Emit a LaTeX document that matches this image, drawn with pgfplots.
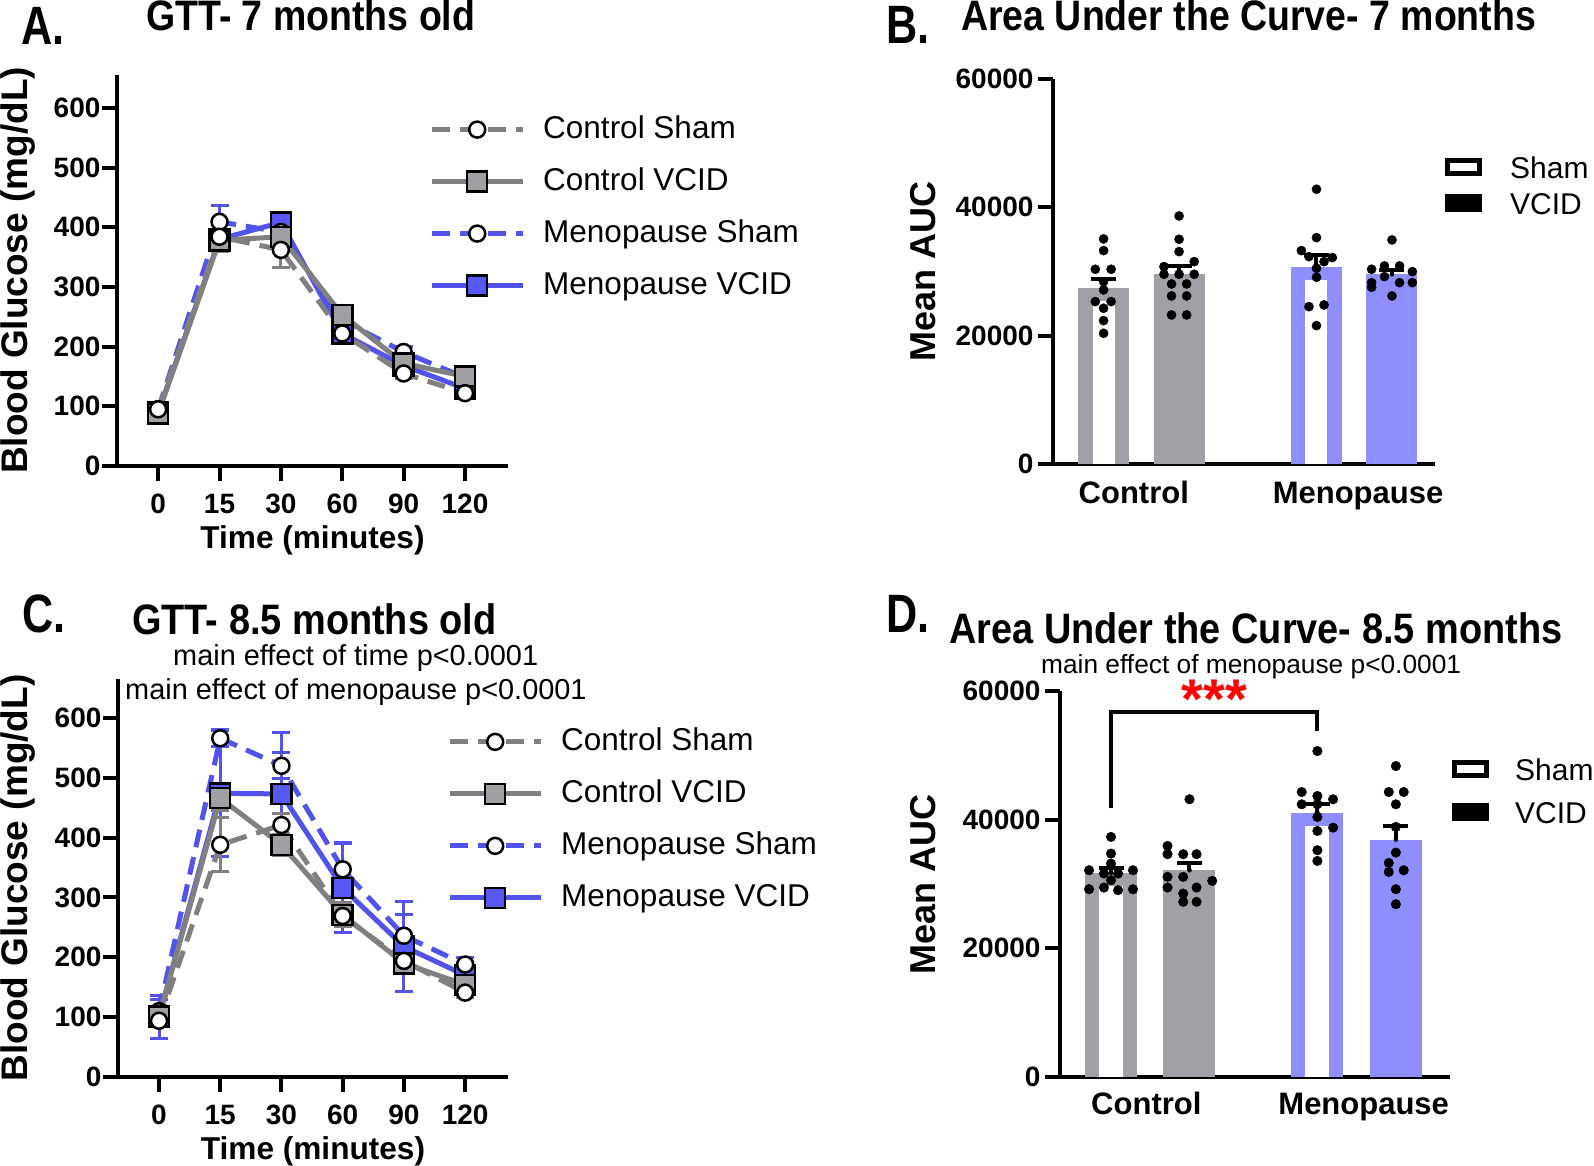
\documentclass[border=0pt]{standalone}
\usepackage{fontspec}
\setmainfont{Liberation Sans}
\usepackage{graphicx}
\usepackage{pgfplots}
\usepackage{pgfplotstable}
\pgfplotsset{compat=1.18}

\definecolor{lgray}{RGB}{128,128,128}
\definecolor{sgray}{RGB}{160,160,164}
\definecolor{lblue}{RGB}{82,82,236}
\definecolor{sblue}{RGB}{88,88,245}
\definecolor{bgray}{RGB}{161,160,166}
\definecolor{bblue}{RGB}{142,142,252}

\newcommand\tickfont{\fontsize{28}{30}\selectfont\bfseries}
\newcommand\titlefont{\fontsize{42.6}{44}\selectfont\bfseries}
\newcommand\letterfont{\fontsize{54}{56}\selectfont\bfseries}

\tikzset{
  cs/.style={lgray, line width=5pt, dash pattern=on 18pt off 10pt, mark=*, mark size=8pt,
    mark options={solid, fill=white, draw=black, line width=2.5pt}},
  cv/.style={lgray, line width=5pt, solid, mark=square*, mark size=10pt,
    mark options={solid, fill=sgray, draw=black, line width=2.5pt}},
  ms/.style={lblue, line width=5pt, dash pattern=on 18pt off 10pt, mark=*, mark size=8pt,
    mark options={solid, fill=white, draw=black, line width=2.5pt}},
  mv/.style={lblue, line width=5pt, solid, mark=square*, mark size=10pt,
    mark options={solid, fill=sblue, draw=black, line width=2.5pt}},
}

\pgfplotsset{
  errs/.style={error bars/.cd, y dir=both, y explicit,
    error bar style={solid, line width=3pt, #1},
    error mark options={rotate=90, solid, line width=3pt, #1, mark size=9pt}},
  panel/.style={scale only axis, axis lines*=left, clip=false,
    axis line style={line width=4pt, black},
    tick align=outside, major tick length=15pt,
    tick style={line width=4pt, black},
    ticklabel style={font=\tickfont},
    /pgf/number format/assume math mode=true,
    scaled y ticks=false},
  gttpanel/.style={panel,
    xmin=-0.67, xmax=5.7, ymin=0,
    xtick={0,1,2,3,4,5}, xticklabels={0,15,30,60,90,120},
    ytick={0,100,200,300,400,500,600},
    xticklabel style={anchor=base, yshift=-32pt},
    yticklabel style={anchor=east, xshift=2pt},
    xlabel={Time (minutes)}, ylabel={Blood Glucose (mg/dL)},
    xlabel style={font=\fontsize{31.6}{34}\selectfont\bfseries, at={(axis description cs:0.5,0)}, anchor=base, yshift=-82pt},
    legend cell align=left,
    legend image code/.code={\draw[mark repeat=2, mark phase=2, ##1] plot coordinates {(0pt,0pt) (45.5pt,0pt) (91pt,0pt)};}},
  aucpanel/.style={panel,
    ymin=0, ymax=60000,
    ytick={0,20000,40000,60000}, yticklabels={0,20000,40000,60000},
    yticklabel style={anchor=east, xshift=-1pt},
    xtick style={draw=none},
    xticklabels={Control,Menopause},
    xticklabel style={font=\fontsize{31}{33}\selectfont\bfseries, anchor=base},
    ylabel={Mean AUC},
    legend cell align=left,
    legend image code/.code={\draw[##1] (0pt,-6pt) rectangle (32pt,7pt);}},
  sem/.style={only marks, mark=none, error bars/.cd, y dir=plus, y explicit,
    error bar style={black, line width=4pt},
    error mark options={rotate=90, black, line width=4pt, mark size=12.5pt}},
}

\pgfplotstableread{
t CS eCS CV eCV MS eMS MV eMV
0 95 5 88 5 95 5 90 5
1 384 25 378 10 409 28 380 15
2 362 29 384 12 392 15 408 12
3 222 10 253 12 244 12 222 10
4 155 8 172 10 191 10 168 8
5 122 6 150 8 148 8 130 8
}\gttA

\pgfplotstableread{
t CS eCS CV eCV MS eMS MV eMV
0 94 8 101 10 110 20 101 36
1 388 45 466 20 566 14 474 105
2 421 20 388 18 520 22 473 103
3 269 15 271 20 347 45 316 74
4 194 12 190 15 236 35 218 75
5 141 8 154 8 188 12 170 30
}\gttC

\begin{document}
\begin{tikzpicture}
\useasboundingbox (0pt,0pt) rectangle (1594pt,-1166pt);

% panel letters and titles
\node[anchor=base west, inner sep=0pt, font=\letterfont] at (21pt,-45pt) {\scalebox{0.8}[1]{A.}};
\node[anchor=base west, inner sep=0pt, font=\titlefont] at (146pt,-31pt) {\scalebox{0.88}[1]{GTT- 7 months old}};
\node[anchor=base west, inner sep=0pt, font=\letterfont] at (886pt,-44pt) {\scalebox{0.8}[1]{B.}};
\node[anchor=base west, inner sep=0pt, font=\titlefont] at (961pt,-31pt) {\scalebox{0.88}[1]{Area Under the Curve- 7 months}};
\node[anchor=base west, inner sep=0pt, font=\letterfont] at (22pt,-632pt) {\scalebox{0.8}[1]{C.}};
\node[anchor=base west, inner sep=0pt, font=\titlefont] at (132pt,-634pt) {\scalebox{0.89}[1]{GTT- 8.5 months old}};
\node[anchor=base west, inner sep=0pt, font=\fontsize{28.9}{30}\selectfont] at (173pt,-665pt) {main effect of time p<0.0001};
\node[anchor=base west, inner sep=0pt, font=\fontsize{28.9}{30}\selectfont] at (125pt,-699pt) {main effect of menopause p<0.0001};
\node[anchor=base west, inner sep=0pt, font=\letterfont] at (886pt,-632pt) {\scalebox{0.8}[1]{D.}};
\node[anchor=base west, inner sep=0pt, font=\titlefont] at (949pt,-643pt) {\scalebox{0.89}[1]{Area Under the Curve- 8.5 months}};
\node[anchor=base west, inner sep=0pt, font=\fontsize{26.3}{28}\selectfont] at (1041pt,-673pt) {main effect of menopause p<0.0001};

% ---------------- A ----------------
\begin{axis}[gttpanel, at={(117pt,-466pt)}, anchor=south west, width=391pt, height=391pt, ymax=655,
  ylabel style={font=\fontsize{37}{40}\selectfont\bfseries, at={(axis description cs:-0.253,0.5)}, anchor=center},
  legend style={draw=none, fill=none, at={(0.798,0.898)}, anchor=north west, inner sep=0pt,
    row sep=23pt, font=\fontsize{31.5}{34}\selectfont,
    nodes={inner sep=0pt, text height=23pt, text depth=6pt},
    /tikz/every odd column/.append style={column sep=18pt}}]
\addlegendimage{cs}
\addlegendimage{cv}
\addlegendimage{ms}
\addlegendimage{mv}
\legend{Control Sham, Control VCID, Menopause Sham, Menopause VCID}
\addplot[mv, errs=lblue] table[x=t, y=MV, y error=eMV] {\gttA};
\addplot[ms, errs=lblue] table[x=t, y=MS, y error=eMS] {\gttA};
\addplot[cv, errs=lgray] table[x=t, y=CV, y error=eCV] {\gttA};
\addplot[cs, errs=lgray] table[x=t, y=CS, y error=eCS] {\gttA};
\end{axis}

% ---------------- C ----------------
\begin{axis}[gttpanel, at={(118pt,-1077pt)}, anchor=south west, width=390pt, height=398pt, ymax=665,
  ylabel style={font=\fontsize{37}{40}\selectfont\bfseries, at={(axis description cs:-0.256,0.5)}, anchor=center},
  legend style={draw=none, fill=none, at={(0.8436,0.879)}, anchor=north west, inner sep=0pt,
    row sep=23pt, font=\fontsize{31.5}{34}\selectfont,
    nodes={inner sep=0pt, text height=23pt, text depth=6pt},
    /tikz/every odd column/.append style={column sep=18pt}}]
\addlegendimage{cs}
\addlegendimage{cv}
\addlegendimage{ms}
\addlegendimage{mv}
\legend{Control Sham, Control VCID, Menopause Sham, Menopause VCID}
\addplot[mv, errs=lblue] table[x=t, y=MV, y error=eMV] {\gttC};
\addplot[ms, errs=lblue] table[x=t, y=MS, y error=eMS] {\gttC};
\addplot[cv, errs=lgray] table[x=t, y=CV, y error=eCV] {\gttC};
\addplot[cs, errs=lgray] table[x=t, y=CS, y error=eCS] {\gttC};
\end{axis}

% ---------------- B ----------------
\begin{axis}[aucpanel, at={(1053pt,-464pt)}, anchor=south west, width=382pt, height=385pt,
  xmin=-0.67, xmax=4.39, xtick={0.4,3.37},
  xticklabel style={yshift=-24pt},
  ylabel style={font=\fontsize{36}{40}\selectfont\bfseries, at={(axis description cs:-0.34,0.5)}, anchor=center},
  legend style={draw=none, fill=none, at={(1.026,0.798)}, anchor=north west, inner sep=0pt,
    row sep=14pt, font=\fontsize{30}{32}\selectfont,
    nodes={inner sep=0pt, text height=22pt, text depth=0pt},
    /tikz/every odd column/.append style={column sep=28pt}}]
\addlegendimage{draw=black, line width=5pt, fill=white}
\addlegendimage{draw=black, line width=5pt, fill=black}
\legend{Sham, VCID}
% bars
\addplot[ybar, bar width=51pt, fill=bgray, draw=none] coordinates {(0,27480)};
\addplot[ybar, bar width=22pt, fill=white, draw=none, y filter/.expression={y-2100}] coordinates {(0,27480)};
\addplot[ybar, bar width=51pt, fill=bgray, draw=none] coordinates {(1,29570)};
\addplot[ybar, bar width=51pt, fill=bblue, draw=none] coordinates {(2.82,30700)};
\addplot[ybar, bar width=22pt, fill=white, draw=none, y filter/.expression={y-2100}] coordinates {(2.82,30700)};
\addplot[ybar, bar width=51pt, fill=bblue, draw=none] coordinates {(3.82,29570)};
% SEM
\addplot[sem] coordinates {(0,27480) +- (0,1360) (1,29570) +- (0,1300) (2.82,30700) +- (0,1880) (3.82,29570) +- (0,670)};
% individual animals
\addplot[only marks, mark=*, mark size=4.6pt, black] coordinates {
  (0,35080) (0,33260) (-0.11,30350) (0.10,30350) (0,28430) (0,27130)
  (-0.11,25310) (0.10,25310) (0,24270) (0,22350) (0,20370)};
\addplot[only marks, mark=*, mark size=4.6pt, black] coordinates {
  (1,38660) (1,35020) (1,33100) (1.2,31540) (0.8,30760) (0.8,29570) (1,29570)
  (1.2,29570) (0.9,28060) (1.1,28060) (0.9,26190) (1.1,26190) (0.9,23230) (1.1,23230)};
\addplot[only marks, mark=*, mark size=4.6pt, black] coordinates {
  (2.82,42820) (2.82,35280) (2.62,33260) (2.72,32320) (3.03,32170) (2.92,31540)
  (2.82,30500) (2.82,29100) (2.72,24530) (2.92,24790) (2.82,21570)};
\addplot[only marks, mark=*, mark size=4.6pt, black] coordinates {
  (3.82,34920) (3.72,30870) (3.92,30870) (3.55,30350) (4.09,29980) (3.72,29200)
  (3.55,28270) (3.92,28270) (4.09,28270) (3.55,27550) (3.82,26190)};
\end{axis}

% ---------------- D ----------------
\begin{axis}[aucpanel, at={(1060pt,-1077pt)}, anchor=south west, width=390pt, height=386pt,
  xmin=-0.65, xmax=4.32, xtick={0.45,3.22},
  xticklabel style={yshift=-22pt},
  ylabel style={font=\fontsize{36}{40}\selectfont\bfseries, at={(axis description cs:-0.351,0.5)}, anchor=center},
  legend style={draw=none, fill=none, at={(1.005,0.8246)}, anchor=north west, inner sep=0pt,
    row sep=21pt, font=\fontsize{30}{32}\selectfont,
    nodes={inner sep=0pt, text height=22pt, text depth=0pt},
    /tikz/every odd column/.append style={column sep=26pt}}]
\addlegendimage{draw=black, line width=5pt, fill=white}
\addlegendimage{draw=black, line width=5pt, fill=black}
\legend{Sham, VCID}
\addplot[ybar, bar width=52pt, fill=bgray, draw=none] coordinates {(0,31720)};
\addplot[ybar, bar width=24pt, fill=white, draw=none, y filter/.expression={y-2100}] coordinates {(0,31720)};
\addplot[ybar, bar width=52pt, fill=bgray, draw=none] coordinates {(1,32140)};
\addplot[ybar, bar width=52pt, fill=bblue, draw=none] coordinates {(2.63,41100)};
\addplot[ybar, bar width=24pt, fill=white, draw=none, y filter/.expression={y-2100}] coordinates {(2.63,41100)};
\addplot[ybar, bar width=52pt, fill=bblue, draw=none] coordinates {(3.63,36910)};
\addplot[sem] coordinates {(0,31720) +- (0,840) (1,32140) +- (0,1200) (2.63,41100) +- (0,1400) (3.63,36910) +- (0,2170)};
\addplot[only marks, mark=*, mark size=4.8pt, black] coordinates {
  (0,37320) (0,34730) (0,33180) (-0.28,32140) (0.28,32140) (-0.09,31630)
  (0.09,31630) (0,30590) (-0.09,29450) (-0.28,29190) (0.28,29190) (0.09,29040)};
\addplot[only marks, mark=*, mark size=4.8pt, black] coordinates {
  (1,43170) (0.72,35920) (0.72,34630) (0.92,34630) (1.09,34630) (0.72,31110) (0.92,31110)
  (1.29,30490) (0.72,29450) (1.09,29450) (0.92,28520) (0.92,27230) (1.09,27230)};
\addplot[only marks, mark=*, mark size=4.8pt, black] coordinates {
  (2.63,50670) (2.43,44300) (2.63,43680) (2.83,43170) (2.43,42390) (2.63,42390)
  (2.63,40420) (2.83,38770) (2.63,38250) (2.63,35250) (2.63,33590)};
\addplot[only marks, mark=*, mark size=4.8pt, black] coordinates {
  (3.63,48340) (3.54,44300) (3.73,44300) (3.63,42390) (3.63,38870) (3.63,34890)
  (3.54,33280) (3.73,32140) (3.54,31880) (3.63,29190) (3.63,26860)};
% significance bracket
\draw[line width=4pt] (axis cs:0,41770) -- (axis cs:0,56680) -- (axis cs:2.63,56680) -- (axis cs:2.63,53770);
\node[anchor=base, inner sep=0pt, text=red, font=\fontsize{56}{56}\selectfont\bfseries] at (axis cs:1.32,55740) {***};
\end{axis}
\end{tikzpicture}
\end{document}
